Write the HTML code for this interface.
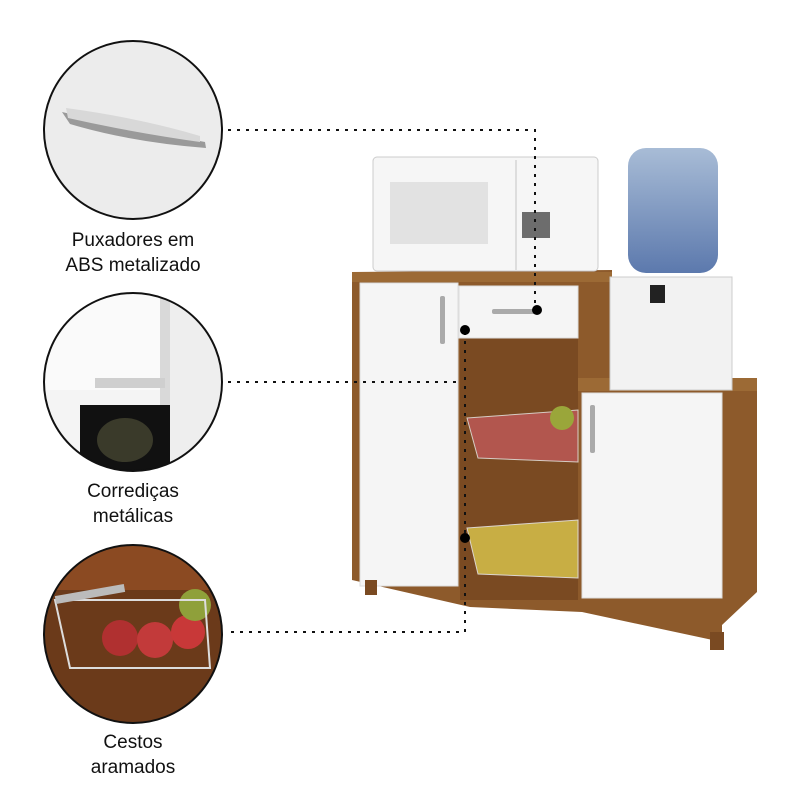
<!DOCTYPE html>
<html><head><meta charset="utf-8"><style>
html,body{margin:0;padding:0;background:#fff;}
svg{display:block}
text{font-family:"Liberation Sans",sans-serif;font-size:19px;fill:#111;text-anchor:middle;}
</style></head><body>
<svg width="800" height="800" viewBox="0 0 800 800">
<defs>
<clipPath id="c1"><circle cx="133" cy="130" r="89"/></clipPath>
<clipPath id="c2"><circle cx="133" cy="382" r="89"/></clipPath>
<clipPath id="c3"><circle cx="133" cy="634" r="89"/></clipPath>
<linearGradient id="bot" x1="0" y1="0" x2="0" y2="1"><stop offset="0" stop-color="#a8bcd6"/><stop offset="1" stop-color="#5c79ad"/></linearGradient>
</defs>
<!-- circle 1 -->
<g clip-path="url(#c1)"><rect x="40" y="40" width="190" height="190" fill="#ececec"/>
<path d="M62 112 Q130 128 205 142 L206 148 Q130 142 70 124 Z" fill="#9a9a9a"/>
<path d="M66 108 Q140 118 200 136 L200 142 Q130 132 68 118Z" fill="#d8d8d8"/></g>
<circle cx="133" cy="130" r="89" fill="none" stroke="#111" stroke-width="2"/>
<!-- circle 2 -->
<g clip-path="url(#c2)"><rect x="40" y="290" width="190" height="190" fill="#f4f4f4"/>
<rect x="40" y="290" width="120" height="100" fill="#fafafa"/>
<rect x="160" y="290" width="10" height="190" fill="#d9d9d9"/>
<rect x="170" y="290" width="60" height="190" fill="#eeeeee"/>
<rect x="95" y="378" width="70" height="10" fill="#cfcfcf"/>
<rect x="80" y="405" width="90" height="80" fill="#111"/>
<ellipse cx="125" cy="440" rx="28" ry="22" fill="#3a3a2a"/></g>
<circle cx="133" cy="382" r="89" fill="none" stroke="#111" stroke-width="2"/>
<!-- circle 3 -->
<g clip-path="url(#c3)"><rect x="40" y="540" width="190" height="190" fill="#6b3a1a"/>
<rect x="40" y="540" width="190" height="50" fill="#8b4a22"/>
<circle cx="120" cy="638" r="18" fill="#b03030"/><circle cx="155" cy="640" r="18" fill="#c23a3a"/>
<circle cx="188" cy="632" r="17" fill="#c83838"/><circle cx="195" cy="605" r="16" fill="#8fa03a"/>
<path d="M55 600 L205 600 L210 668 L70 668Z" fill="none" stroke="#ddd" stroke-width="2"/>
<rect x="55" y="590" width="70" height="8" fill="#bbb" transform="rotate(-10 90 594)"/></g>
<circle cx="133" cy="634" r="89" fill="none" stroke="#111" stroke-width="2"/>
<text x="133" y="246">Puxadores em</text><text x="133" y="271">ABS metalizado</text>
<text x="133" y="497">Corrediças</text><text x="133" y="522">metálicas</text>
<text x="133" y="748">Cestos</text><text x="133" y="773">aramados</text>
<!-- cabinet -->
<polygon points="352,272 612,270 612,380 757,380 757,592 722,625 722,642 582,612 470,607 352,580" fill="#8d5a2b"/>
<rect x="460" y="338" width="118" height="262" fill="#7a4a22"/>
<rect x="352" y="272" width="260" height="10" fill="#9c6a35"/>
<rect x="578" y="378" width="179" height="13" fill="#9c6a35"/>
<rect x="360" y="283" width="98" height="303" fill="#f5f5f5" stroke="#ddd"/>
<rect x="459" y="286" width="119" height="52" fill="#f5f5f5" stroke="#ddd"/>
<rect x="582" y="393" width="140" height="205" fill="#f5f5f5" stroke="#ddd"/>
<rect x="440" y="296" width="5" height="48" rx="2" fill="#aaa"/>
<rect x="590" y="405" width="5" height="48" rx="2" fill="#aaa"/>
<rect x="492" y="309" width="45" height="5" rx="2" fill="#aaa"/>
<rect x="365" y="580" width="12" height="15" fill="#7a4a22"/>
<rect x="710" y="632" width="14" height="18" fill="#7a4a22"/>
<!-- baskets -->
<path d="M467 418 L578 410 L578 462 L478 458Z" fill="#c05a5a" opacity=".8" stroke="#eee"/>
<circle cx="562" cy="418" r="12" fill="#9aa63a"/>
<path d="M467 528 L578 520 L578 578 L478 574Z" fill="#d6c04a" opacity=".85" stroke="#eee"/>
<!-- microwave -->
<rect x="373" y="157" width="225" height="114" rx="4" fill="#f6f6f6" stroke="#ccc"/>
<rect x="390" y="182" width="98" height="62" fill="#e2e2e2"/>
<rect x="515" y="160" width="2" height="110" fill="#ddd"/>
<rect x="522" y="212" width="28" height="26" fill="#333" opacity=".7"/>
<!-- water -->
<rect x="610" y="277" width="122" height="113" fill="#f2f2f2" stroke="#ccc"/>
<rect x="650" y="285" width="15" height="18" fill="#222"/>
<rect x="628" y="148" width="90" height="125" rx="18" fill="url(#bot)"/>
<!-- dotted lines -->
<g stroke="#111" stroke-width="2" stroke-dasharray="3,6" fill="none">
<path d="M228 130 H535 V308"/><path d="M228 382 H462"/><path d="M465 332 V632 H228"/>
</g>
<circle cx="537" cy="310" r="5" fill="#000"/><circle cx="465" cy="330" r="5" fill="#000"/><circle cx="465" cy="538" r="5" fill="#000"/>
</svg>
</body></html>
